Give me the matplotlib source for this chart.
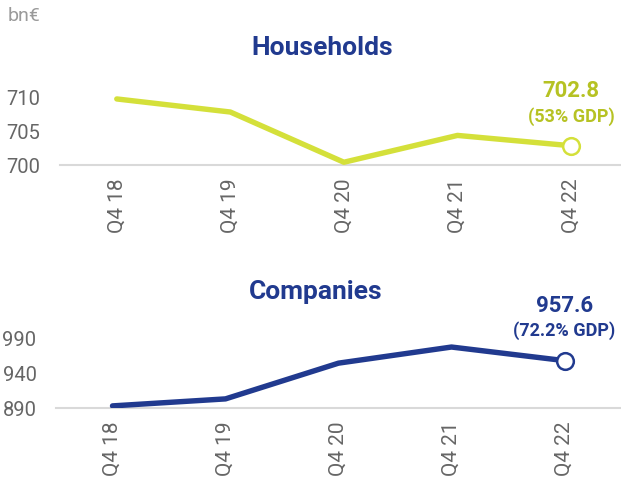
import matplotlib
matplotlib.use('Agg')
import matplotlib.pyplot as plt

plt.rcParams['font.family'] = ['Roboto', 'DejaVu Sans']

# Data
quarters = ['Q4 18', 'Q4 19', 'Q4 20', 'Q4 21', 'Q4 22']
households = [709.6, 707.7, 700.4, 704.3, 702.8]
companies = [893, 903, 954, 977, 957.6]
households_gdp = '(53% GDP)'
companies_gdp = '(72.2% GDP)'

yellow = '#d4e03a'
yellow_text = '#b6c223'
blue = '#213a8f'
gray = '#666666'

fig = plt.figure(figsize=(6.21, 4.81), dpi=100)
W, H = 621, 481


def make_axes(left, right, base, top):
    return fig.add_axes([left / W, 1 - base / H, (right - left) / W, (base - top) / H])


def draw_panel(ax, values, color, text_color, label, gdp, ylim, yticks, xlim):
    x = range(len(values))
    ax.plot(x, values, color=color, lw=3.9, solid_capstyle='round', zorder=3)
    ax.plot(x[-1], values[-1], 'o', ms=12, mfc='white', mec=color, mew=1.8, zorder=4)
    ax.set_ylim(*ylim)
    ax.set_xlim(*xlim)
    ax.set_yticks(yticks)
    ax.set_xticks(list(x))
    ax.set_xticklabels(quarters, rotation=90, va='top', ha='center')
    ax.tick_params(length=0, labelsize=15, colors=gray)
    ax.tick_params(axis='x', pad=9)
    ax.tick_params(axis='y', labelsize=14.5, pad=14)
    for s in ax.spines.values():
        s.set_visible(False)
    ax.axhline(ylim[0], color='#d9d9d9', lw=1.5, zorder=1, clip_on=False)
    ax.patch.set_alpha(0)
    ax.annotate(label, (x[-1], values[-1]), xytext=(0, 40), textcoords='offset points',
                ha='center', va='center', fontsize=16, fontweight='bold', color=text_color,
                annotation_clip=False)
    ax.annotate(gdp, (x[-1], values[-1]), xytext=(0, 22), textcoords='offset points',
                ha='center', va='center', fontsize=13, fontweight='bold', color=text_color,
                annotation_clip=False)


ax1 = make_axes(60, 621, 166, 80)
draw_panel(ax1, households, yellow, yellow_text, f'{households[-1]:.1f}', households_gdp,
           (700, 712.5), [700, 705, 710], (-0.5, 4.44))

ax2 = make_axes(56, 621, 409, 320)
draw_panel(ax2, companies, blue, blue, f'{companies[-1]:.1f}', companies_gdp,
           (890, 1017), [890, 940, 990], (-0.5, 4.5))

fig.text(322 / W, 1 - 48 / H, 'Households', ha='center', va='center',
         fontsize=19, fontweight='bold', color=blue)
fig.text(316 / W, 1 - 292 / H, 'Companies', ha='center', va='center',
         fontsize=19, fontweight='bold', color=blue)
fig.text(8 / W, 1 - 16 / H, 'bn€', ha='left', va='center', fontsize=14, color='#9a9a9a')

fig.savefig('out.png', dpi=100)
